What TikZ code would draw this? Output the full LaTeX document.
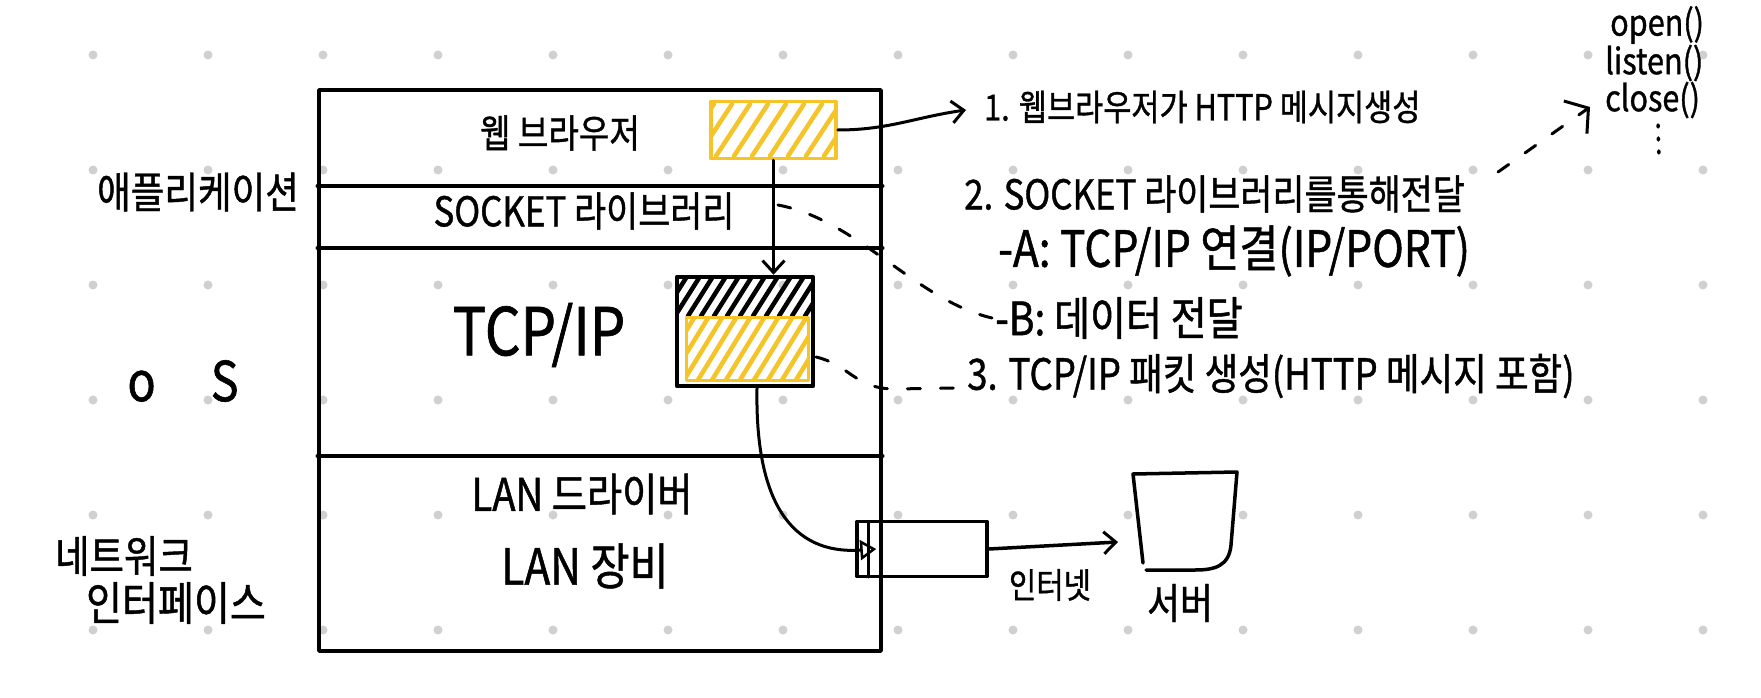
\documentclass[tikz,border=0pt]{standalone}
\usepackage{fontspec}
\newfontfamily\hand[FakeStretch=0.85,FakeBold=1]{Noto Sans CJK KR}
\usetikzlibrary{arrows.meta}
\definecolor{hy}{RGB}{245,196,40}
\definecolor{dotc}{RGB}{208,208,208}
\begin{document}
\begin{tikzpicture}[x=1pt,y=-1pt,line cap=round,line join=round,
  txt/.style={font=\hand\fontsize{#1}{#1}\selectfont,inner sep=0pt},
  ln/.style={line width=3.5pt},
  ln2/.style={line width=3pt},
  dsh/.style={line width=3pt,dash pattern=on 13pt off 20pt},
  barb/.style={-{Straight Barb[length=12pt,width=22pt,line width=3pt]}},
  hatchy/.style={hy,line width=4.5pt},
  hatchk/.style={black,line width=4.5pt}]
\useasboundingbox (0,0) rectangle (1761,698);
\fill[white] (0,0) rectangle (1761,698);
% grid dots
\foreach \i in {0,...,14}{\foreach \j in {0,...,5}{
  \fill[dotc] ({93+115*\i},{55+115*\j}) circle (4.5pt);}}
% main stack
\node[draw,ln,minimum width=562pt,minimum height=561pt,inner sep=0pt] (stack) at (600,370.5) {};
\draw[ln] (stack.west |- 0,186) -- (stack.east |- 0,186);
\draw[ln] (stack.west |- 0,248) -- (stack.east |- 0,248);
\draw[ln] (stack.west |- 0,456) -- (stack.east |- 0,456);
% layer labels
\node[txt=39] (browser) at (560,133) {웹 브라우저};
\node[txt=41] (socket) at (584,211) {SOCKET 라이브러리};
\node[txt=66] (tcpip) at (539,335) {TCP/IP};
\node[txt=45] (landrv) at (582,494) {LAN 드라이버};
\node[txt=50] (landev) at (585,566) {LAN 장비};
% side labels
\node[txt=43] (app) at (198,192) {애플리케이션};
\node[txt=55] (os) at (183,381) {o\quad S};
\node[txt=44] (net1) at (124,556) {네트워크};
\node[txt=46] (net2) at (176,603) {인터페이스};
% yellow message box
\begin{scope}
  \clip (712,102) rectangle (836,158);
  \foreach \k in {0,...,9}{\draw[hatchy] ({680+18*\k},156) -- ++(34,-52);}
\end{scope}
\node[draw=hy,line width=3.5pt,minimum width=125pt,minimum height=57pt,inner sep=0pt] (yb) at (773.5,130) {};
% tcp/ip packet box
\begin{scope}
  \clip (679,279) rectangle (811,316);
  \foreach \k in {0,...,11}{\draw[hatchk] ({662+13*\k},316) -- ++(24,-38);}
\end{scope}
\begin{scope}
  \clip (686,317) rectangle (808,380);
  \foreach \k in {0,...,12}{\draw[hatchy] ({656+14*\k},380) -- ++(38,-62);}
\end{scope}
\draw[hy,line width=3pt] (686,317) rectangle (808,380);
\node[draw,line width=4.5pt,minimum width=136pt,minimum height=109pt,inner sep=0pt] (tcpbox) at (745,331.5) {};
% descriptions
\node[txt=36,anchor=west] (line1) at (984,107) {1. 웹브라우저가 HTTP 메시지생성};
\node[txt=41,anchor=west] (line2) at (964,194) {2. SOCKET 라이브러리를통해전달};
\node[txt=50,anchor=west] (lineA) at (998,251) {-A: TCP/IP 연결(IP/PORT)};
\node[txt=46,anchor=west] (lineB) at (995,318) {-B: 데이터 전달};
\node[txt=43,anchor=west] (line3) at (967,376) {3. TCP/IP 패킷 생성(HTTP 메시지 포함)};
\node[txt=36,anchor=west] (open) at (1610,25) {open()};
\node[txt=36,anchor=west] (listen) at (1605,63) {listen()};
\node[txt=36,anchor=west] (close) at (1605,100) {close()};
\draw[line width=3.5pt,dash pattern=on 2pt off 11pt] (1658,125) -- (1659,158);
% LAN device and server
\node[draw,ln,minimum width=130pt,minimum height=55pt,inner sep=0pt] (lanbox) at (922,549) {};
\draw[ln2] (868,522) -- (868,577);
\draw[ln] (1143,563) -- (1133,474) -- (1237,472) -- (1231,545)
  .. controls (1229,566) and (1215,570) .. (1195,570) -- (1146,570);
\coordinate (srvin) at (1118,542);
\node[txt=35] (internet) at (1050,585) {인터넷};
\node[txt=42] (server) at (1180,603) {서버};
% connectors
\draw[ln2,barb] (yb.south) -- (yb.south |- tcpbox.north);
\draw[ln2,barb] (yb.east) to[out=0,in=188] ([xshift=-18pt,yshift=-3pt]line1.west);
\coordinate (d1s) at (778,205);
\draw[dsh] (d1s) .. controls +(80,15) and +(-77,-18) .. ([xshift=-3pt]lineB.west);
\coordinate (d2s) at (816,357);
\draw[dsh] (d2s) .. controls (850,365) and (855,389) .. (895,389) -- ([xshift=-12pt,yshift=-12pt]line3.west);
\draw[dsh,-{Straight Barb[length=16pt,width=40pt,line width=3pt]}] ([xshift=33pt,yshift=22pt]line2.east) -- ([xshift=-15pt,yshift=-7pt]close.west);
\draw[ln2,-{Triangle[open,length=16pt,width=20pt,line width=2.5pt]}] ([xshift=12pt]tcpbox.south) .. controls (755,500) and (790,555) .. ([xshift=21pt]lanbox.west);
\draw[ln,barb] (lanbox.east) -- (srvin);
\end{tikzpicture}
\end{document}
